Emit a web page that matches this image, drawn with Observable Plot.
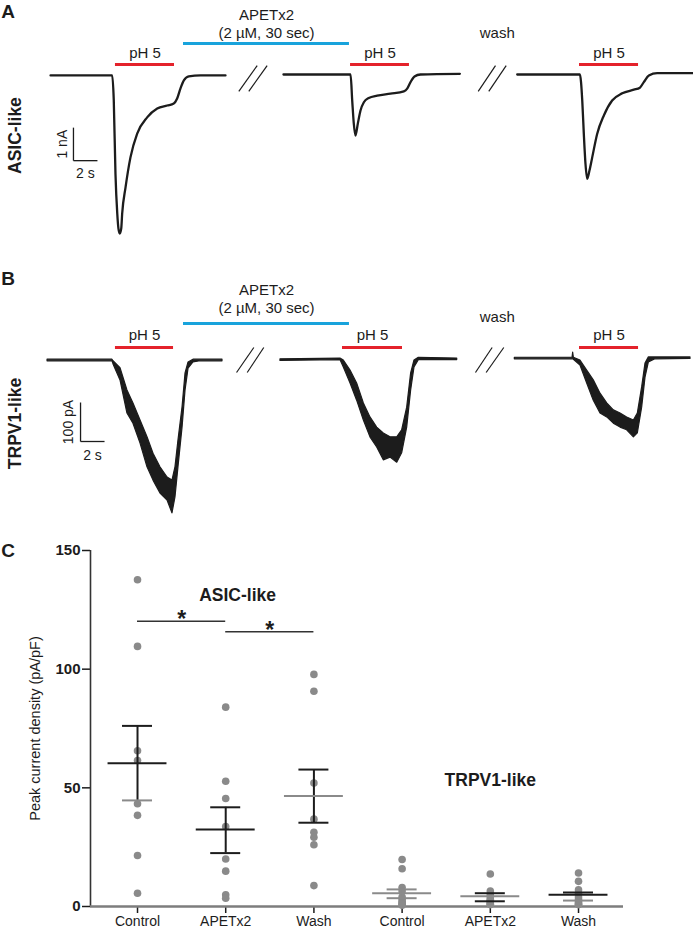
<!DOCTYPE html>
<html><head><meta charset="utf-8">
<script src="https://cdn.jsdelivr.net/npm/d3@7"></script>
<script src="https://cdn.jsdelivr.net/npm/@observablehq/plot@0.6"></script>
<style>
html,body{margin:0;padding:0;background:#fff;}
#fig{position:relative;width:693px;height:930px;overflow:hidden;background:#fff;}
#fig svg{position:absolute;left:0;}
</style></head><body><div id="fig"></div>
<script>
// ---------- Panel A: ASIC-like traces (time in s, current in nA) ----------
const a1T = [4.17, 9.31, 9.44, 9.58, 9.73, 9.83, 9.94, 10.06, 10.14, 10.42, 10.83, 11.39, 12.22, 13.06, 13.89, 14.44, 14.72, 15.0, 15.28, 15.69, 16.67, 18.75];
const a1I = [0, 0, -0.76, -2.97, -4.18, -4.64, -4.79, -4.64, -4.18, -3.39, -2.48, -1.76, -1.27, -1.0, -0.91, -0.85, -0.70, -0.39, -0.15, -0.03, 0, 0];
const a2T = [23.58, 29.17, 29.31, 29.44, 29.58, 29.78, 30.0, 30.28, 30.69, 31.39, 32.5, 33.61, 33.89, 34.17, 34.5, 35.0, 38.28];
const a2I = [0.03, 0.03, -0.76, -1.45, -1.82, -1.45, -1.06, -0.81, -0.68, -0.61, -0.55, -0.48, -0.40, -0.20, -0.03, 0.03, 0.05];
const a3T = [43.06, 48.28, 48.48, 48.61, 48.75, 48.89, 49.08, 49.31, 49.72, 50.28, 50.97, 51.81, 52.78, 53.28, 53.61, 54.03, 54.72, 57.75];
const a3I = [0.03, 0.03, -0.76, -1.77, -2.68, -3.13, -2.88, -2.48, -1.77, -1.21, -0.76, -0.54, -0.43, -0.37, -0.20, 0, 0.07, 0.07];
const phStartA = [9.58, 29.17, 48.25];
const phEndA = [14.5, 34.08, 53.17];
const apetA = [15.25, 29.08];
const washA = 41.4;
const breakA_x1 = [19.86, 20.69, 39.81, 40.69];
const breakA_x2 = [21.39, 22.22, 41.25, 42.14];
const breakA_y = [-0.48, 0.30];
const scaleA = {t0: 6.08, i0: -2.58, dt: 2, di: 1, tLabel: "2 s", iLabel: "1 nA"};

// ---------- Panel B: TRPV1-like traces (time in s, current in pA, noise envelope) ----------
const b1T  = [3.92, 9.33, 9.42, 10.0, 10.58, 11.08, 11.67, 12.25, 12.75, 13.33, 13.92, 14.33, 14.58, 14.83, 15.17, 15.42, 15.67, 16.08, 16.67, 18.5];
const b1Hi = [2, 2, -2, -20, -77, -110, -154, -197, -239, -274, -300, -308, -274, -205, -120, -33, -5, 2, 2, 2];
const b1Lo = [-2, -2, -10, -51, -136, -162, -213, -274, -308, -341, -359, -392, -351, -274, -172, -77, -21, -5, -2, -2];
const b2T  = [23.33, 28.33, 28.61, 29.17, 29.72, 30.28, 30.83, 31.39, 31.94, 32.5, 33.06, 33.47, 33.89, 34.22, 34.5, 34.86, 38.06];
const b2Hi = [3, 5, 0, -26, -59, -110, -146, -172, -187, -197, -197, -179, -121, -33, 0, 7, 5];
const b2Lo = [-1, 1, -18, -59, -103, -154, -197, -223, -256, -249, -262, -238, -172, -77, -18, 1, 1];
const b3T  = [42.86, 47.67, 47.72, 47.78, 48.33, 48.89, 49.44, 50.0, 50.56, 51.11, 51.67, 52.22, 52.78, 53.11, 53.47, 53.75, 54.03, 54.58, 57.5];
const b3Hi = [7, 7, 20, 7, 0, -26, -51, -85, -110, -128, -136, -146, -154, -136, -69, -8, 8, 8, 8];
const b3Lo = [3, 3, 3, 2, -13, -59, -103, -136, -146, -162, -172, -179, -197, -187, -121, -44, -5, 3, 4];
const phStartB = [9.58, 28.5, 48.25];
const phEndB = [14.42, 33.5, 53.17];
const apetB = [15.25, 29.08];
const washB = 41.4;
const breakB_x1 = [19.67, 20.56, 39.58, 40.47];
const breakB_x2 = [21.11, 21.94, 40.97, 41.94];
const breakB_y = [-30.8, 33.3];
const scaleB = {t0: 6.67, i0: -207.7, dt: 2, di: 100, tLabel: "2 s", iLabel: "100 pA"};

// ---------- Panel C: peak current density (pA/pF) ----------
const groupLabels = ["Control", "APETx2", "Wash", "Control", "APETx2", "Wash"];
const asicControl = [137.7, 109.6, 65.6, 61.5, 43.3, 38.4, 21.5, 5.6];
const asicAPETx2  = [84.0, 52.8, 45.5, 33.7, 20.0, 14.9, 4.9, 3.5];
const asicWash    = [97.8, 90.7, 52.0, 36.8, 31.3, 29.2, 26.0, 8.8];
const trpControl  = [19.8, 15.9, 8.0, 6.5, 4.0, 3.0, 2.0, 1.5, 1.0, 0.5];
const trpAPETx2   = [13.7, 6.5, 5.0, 4.0, 3.0, 2.5, 2.0, 1.5, 1.0, 0.8];
const trpWash     = [14.1, 10.6, 7.0, 5.5, 4.0, 3.0, 2.0, 1.5, 1.0, 0.8];
const meanVals = [60.4, 32.4, 46.6, 5.6, 4.3, 5.0];
const semHi    = [76.1, 41.8, 57.7, 7.2, 5.6, 5.9];
const semLo    = [44.7, 22.5, 35.3, 3.5, 2.2, 2.5];
const sigFrom = [0, 1], sigTo = [1, 2], sigLevel = [120.2, 115.8], sigLabel = ["*", "*"];
const yTicksC = [0, 50, 100, 150];

// ---------- styles ----------
const FONT = '"Liberation Sans", Arial, Helvetica, sans-serif';
const INK = "#1c1c1c", RED = "#e4222b", BLUE = "#18a3dc", GRAY = "#8a8a8a";
const meanColor = [INK, INK, GRAY, GRAY, GRAY, INK];
const hiColor   = [INK, INK, INK, GRAY, INK, INK];
const loColor   = [GRAY, INK, INK, GRAY, INK, GRAY];
const stemColor = [INK, INK, INK, GRAY, GRAY, GRAY];

const rowsLine = (seg, T, V) => T.map((t, k) => ({seg, t, v: V[k]}));
const rowsBand = (seg, T, H, L) => T.map((t, k) => ({seg, t, hi: H[k], lo: L[k]}));

function tracePanel(opts) {
  const {height, xDomain, yDomain, traceMarks, phS, phE, apet, wash, bx1, bx2, by, sb, label, letter, d} = opts;
  const ph = phS.map((s, k) => ({s, e: phE[k]}));
  const breaks = bx1.map((x1, k) => ({x1, x2: bx2[k]}));
  return Plot.plot({
    width: 693, height, margin: 0,
    style: {fontFamily: FONT, fontSize: "15px", color: INK, background: "transparent"},
    x: {domain: xDomain, axis: null},
    y: {domain: yDomain, axis: null},
    marks: [
      ...traceMarks,
      Plot.ruleY(ph, {y: 0, x1: "s", x2: "e", dy: d.phBar, stroke: RED, strokeWidth: 3}),
      Plot.text(ph, {x: r => (r.s + r.e) / 2, y: 0, text: () => "pH 5", dy: d.phText, fontSize: 15}),
      Plot.ruleY([apet], {y: 0, x1: r => r[0], x2: r => r[1], dy: d.apBar, stroke: BLUE, strokeWidth: 3}),
      Plot.text([apet], {x: r => (r[0] + r[1]) / 2, y: 0, text: () => "APETx2", dy: d.apText1, fontSize: 15}),
      Plot.text([apet], {x: r => (r[0] + r[1]) / 2, y: 0, text: () => "(2 µM, 30 sec)", dy: d.apText2, fontSize: 15}),
      Plot.text([wash], {x: r => r, y: 0, text: () => "wash", dy: d.wash, fontSize: 15}),
      Plot.link(breaks, {x1: "x1", x2: "x2", y1: () => by[0], y2: () => by[1], stroke: INK, strokeWidth: 1.2}),
      Plot.link([sb], {x1: "t0", x2: "t0", y1: "i0", y2: r => r.i0 + r.di, stroke: INK, strokeWidth: 1.3}),
      Plot.link([sb], {x1: "t0", x2: r => r.t0 + r.dt, y1: "i0", y2: "i0", stroke: INK, strokeWidth: 1.3}),
      Plot.text([sb], {x: "t0", y: r => r.i0 + r.di / 2, text: "iLabel", rotate: -90, dx: d.iLab, fontSize: 14}),
      Plot.text([sb], {x: r => r.t0 + r.dt / 2, y: "i0", text: "tLabel", dy: d.tLab, fontSize: 14}),
      Plot.text([label], {x: 1.25, y: d.labelY, text: r => r, rotate: -90, fontSize: 17.5, fontWeight: "bold"}),
      Plot.text([letter], {frameAnchor: "top-left", textAnchor: "middle", lineAnchor: "middle", dx: 7.5, dy: d.letterY, text: r => r, fontSize: 19, fontWeight: "bold"})
    ]
  });
}

const traceA = [...rowsLine(1, a1T, a1I), ...rowsLine(2, a2T, a2I), ...rowsLine(3, a3T, a3I)];
const svgA = tracePanel({
  height: 250, xDomain: [0, 57.75], yDomain: [-5.30, 2.27],
  traceMarks: [Plot.line(traceA, {x: "t", y: "v", z: "seg", stroke: INK, strokeWidth: 2.3, curve: "monotone-x", strokeLinejoin: "round"})],
  phS: phStartA, phE: phEndA, apet: apetA, wash: washA,
  bx1: breakA_x1, bx2: breakA_x2, by: breakA_y, sb: scaleA, label: "ASIC-like", letter: "A",
  d: {phBar: -11, phText: -22, apBar: -32, apText1: -60, apText2: -42, wash: -42, iLab: -11, tLab: 13, labelY: -1.82, letterY: 11}
});

const traceB = [...rowsBand(1, b1T, b1Hi, b1Lo), ...rowsBand(2, b2T, b2Hi, b2Lo), ...rowsBand(3, b3T, b3Hi, b3Lo)];
const svgB = tracePanel({
  height: 270, xDomain: [0, 57.75], yDomain: [-435.9, 256.4],
  traceMarks: [Plot.areaY(traceB, {x: "t", y1: "lo", y2: "hi", z: "seg", fill: INK, stroke: INK, strokeWidth: 1.2, strokeLinejoin: "round"})],
  phS: phStartB, phE: phEndB, apet: apetB, wash: washB,
  bx1: breakB_x1, bx2: breakB_x2, by: breakB_y, sb: scaleB, label: "TRPV1-like", letter: "B",
  d: {phBar: -13, phText: -25, apBar: -37, apText1: -70, apText2: -52, wash: -43, iLab: -12, tLab: 14, labelY: -161.5, letterY: 18}
});

// Panel C
const groups = [asicControl, asicAPETx2, asicWash, trpControl, trpAPETx2, trpWash];
const points = groups.flatMap((vals, i) => vals.map(v => ({i, v})));
const stats = meanVals.map((m, i) => ({i, mean: m, hi: semHi[i], lo: semLo[i]}));
const sig = sigFrom.map((a, k) => ({a, b: sigTo[k], y: sigLevel[k], label: sigLabel[k]}));
const xDomC = [-0.533, 5.51];
const MEAN_HALF = 0.334, CAP_HALF = 0.17;

const svgC = Plot.plot({
  width: 693, height: 400,
  marginTop: 20, marginBottom: 24, marginLeft: 90, marginRight: 70,
  style: {fontFamily: FONT, fontSize: "14px", color: INK, background: "transparent"},
  x: {domain: xDomC, axis: null},
  y: {domain: [0, 150], axis: null},
  marks: [
    Plot.axisY({ticks: yTicksC, tickSize: 8, tickPadding: 2, label: null, fontSize: 15, fontWeight: "bold", strokeWidth: 1.5}),
    Plot.axisX({ticks: d3.range(groupLabels.length), tickFormat: i => groupLabels[i], tickSize: 7, tickPadding: 3, label: null, fontSize: 14, strokeWidth: 1.5}),
    Plot.ruleX([xDomC[0]], {y1: 0, y2: 150, stroke: "#333", strokeWidth: 1.6}),
    Plot.ruleY([0], {stroke: "#7d7d7d", strokeWidth: 2.6}),
    Plot.dot(points, {x: "i", y: "v", r: 3.8, fill: GRAY}),
    Plot.ruleX(stats, {x: "i", y1: "lo", y2: "hi", stroke: r => stemColor[r.i], strokeWidth: 2}),
    Plot.ruleY(stats, {y: "mean", x1: r => r.i - MEAN_HALF, x2: r => r.i + MEAN_HALF, stroke: r => meanColor[r.i], strokeWidth: 2}),
    Plot.ruleY(stats, {y: "hi", x1: r => r.i - CAP_HALF, x2: r => r.i + CAP_HALF, stroke: r => hiColor[r.i], strokeWidth: 2}),
    Plot.ruleY(stats, {y: "lo", x1: r => r.i - CAP_HALF, x2: r => r.i + CAP_HALF, stroke: r => loColor[r.i], strokeWidth: 2}),
    Plot.ruleY(sig, {y: "y", x1: "a", x2: "b", stroke: "#333", strokeWidth: 1.5}),
    Plot.text(sig, {x: r => (r.a + r.b) / 2, y: "y", text: "label", lineAnchor: "bottom", dy: 6, fontSize: 23, fontWeight: "bold"}),
    Plot.text(["ASIC-like"], {x: 1.134, y: 131, text: r => r, fontSize: 17.5, fontWeight: "bold"}),
    Plot.text(["TRPV1-like"], {x: 4.0, y: 53.1, text: r => r, fontSize: 17.5, fontWeight: "bold"}),
    Plot.text(["Peak current density (pA/pF)"], {frameAnchor: "left", textAnchor: "middle", lineAnchor: "middle", dx: -55, rotate: -90, text: r => r, fontSize: 14.5}),
    Plot.text(["C"], {frameAnchor: "top-left", textAnchor: "middle", lineAnchor: "middle", dx: -82.5, dy: 0, text: r => r, fontSize: 19, fontWeight: "bold"})
  ]
});

const fig = document.getElementById("fig");
[[svgA, 0], [svgB, 260], [svgC, 530]].forEach(([el, top]) => {
  el.style.position = "absolute";
  el.style.top = top + "px";
  el.style.left = "0px";
  fig.appendChild(el);
});
</script></body></html>
